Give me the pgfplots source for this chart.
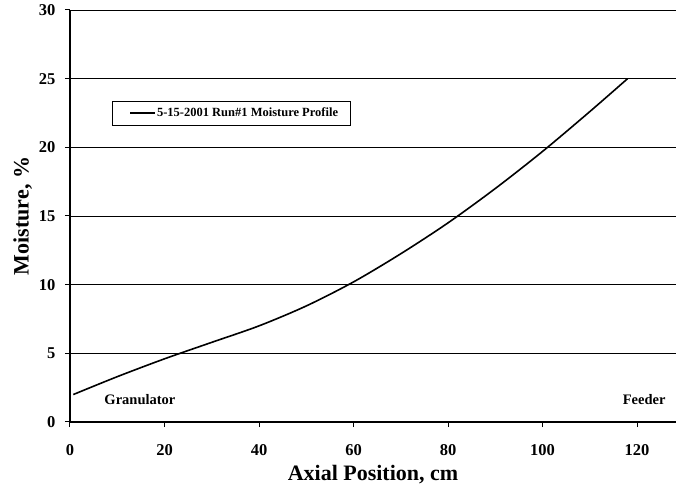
\documentclass[border=0pt]{standalone}
\usepackage{pgfplots}
\pgfplotsset{compat=1.18}
\usepackage{fontspec}
\setmainfont{Liberation Serif}
\begin{document}
\begin{tikzpicture}[x=1pt,y=1pt]
\useasboundingbox (-70,-72) rectangle (606,422);
\begin{axis}[
  scale only axis,
  width=606pt, height=412pt,
  at={(0,0)}, anchor=south west,
  xmin=0, xmax=128.25, ymin=0, ymax=30,
  xtick={0,20,...,120}, ytick={0,5,...,30},
  axis x line*=bottom, axis y line*=left,
  axis line style={line width=1.5pt,-},
  tick style={black, line width=1pt},
  tick align=outside, major tick length=5pt,
  ymajorgrids, grid style={black, line width=0.8pt},
  tick label style={font=\fontsize{16.5}{18}\selectfont\bfseries},
  xticklabel style={yshift=-14pt},
  yticklabel style={xshift=-6pt},
  /pgf/number format/assume math mode=true,
  xlabel={Axial Position, cm}, ylabel={Moisture, \%},
  label style={font=\fontsize{22}{24}\selectfont\bfseries},
  xlabel style={yshift=-3pt},
  ylabel style={yshift=0pt},
  legend style={at={(axis cs:8.9,23.4)}, anchor=north west, draw=black, line width=0.8pt,
    font=\fontsize{12.5}{14}\selectfont\bfseries, inner xsep=11pt, inner ysep=5pt,
    nodes={inner xsep=1pt}},
  legend cell align=left,
  legend image code/.code={\path (0pt,0pt); \draw[line width=1.5pt] (6pt,0pt) -- (31pt,0pt);},
  clip=false,
]
\addplot[black, line width=1.6pt, smooth, tension=0.5] coordinates {
(0.7,2.0)(10,3.3)(20,4.6)(30,5.8)(40,7.0)(50,8.45)(60,10.2)(70,12.25)(80,14.5)(90,17.0)(100,19.7)(110,22.6)(118,25)
};
\addlegendentry{5-15-2001 Run\#1 Moisture Profile}
\addplot[black, line width=1.6pt, forget plot] coordinates {(118,25)(128.25,25)};
\node[font=\fontsize{14.5}{16}\selectfont\bfseries] at (axis cs:14.8,1.6) {Granulator};
\node[font=\fontsize{14.5}{16}\selectfont\bfseries] at (axis cs:121.5,1.6) {Feeder};
\end{axis}
\end{tikzpicture}
\end{document}
